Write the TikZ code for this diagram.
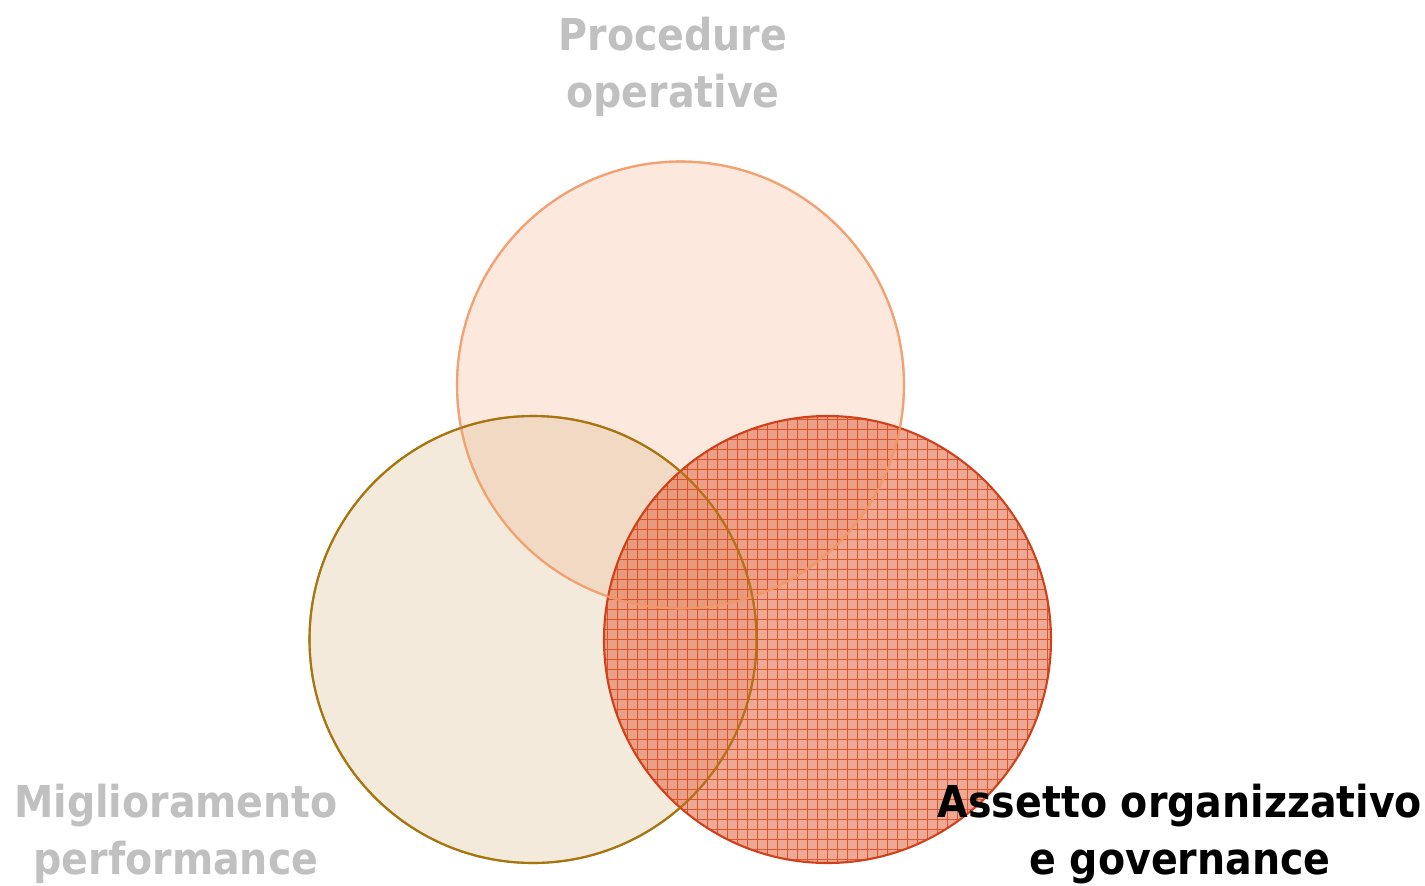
\documentclass[tikz,border=0pt]{standalone}
\usepackage{fontspec}
\setmainfont{DejaVu Sans Condensed}
\definecolor{procline}{HTML}{F4A070}
\definecolor{procfill}{HTML}{F7B894}
\definecolor{migline}{HTML}{A8740E}
\definecolor{migfill}{HTML}{D9B98A}
\definecolor{assline}{HTML}{D0401A}
\definecolor{assfill}{HTML}{E2704F}
\definecolor{assgrid}{HTML}{DA461A}
\definecolor{labelgray}{HTML}{C0C0C0}

\begin{document}
\begin{tikzpicture}[
    area/.style={circle, minimum size=4.47cm, inner sep=0pt, line width=0.6pt},
    label/.style={align=center, anchor=base, inner sep=0pt,
        font=\fontsize{12.5pt}{16.2pt}\selectfont\bfseries}
]
    \useasboundingbox (0,0) rectangle (14.25,8.85);
    \node[area, draw=procline, fill=procfill, fill opacity=0.33] (proc) at (6.805,5.0) {};
    \node[area, draw=migline, fill=migfill, fill opacity=0.3] (mig) at (5.33,2.455) {};
    \node[area, draw=assline, fill=assfill, fill opacity=0.6,
        path picture={
            \draw[assgrid, line width=0.4pt, opacity=0.85, step=0.1]
                (path picture bounding box.south west) grid
                (path picture bounding box.north east);
        }] (ass) at (8.275,2.455) {};
    % outlines seen through the red circle
    \draw[procline, line width=0.6pt, opacity=0.8] (proc.center) circle[radius=2.235];
    \draw[migline, line width=0.6pt, opacity=0.7] (mig.center) circle[radius=2.235];
    \node[label, text=labelgray] (proclabel) at (6.73,7.78) {Procedure\\operative};
    \node[label, text=labelgray] (miglabel) at (1.76,0.11) {Miglioramento\\performance};
    \node[label, text=black] (asslabel) at (11.8,0.11) {Assetto organizzativo\\e governance};
\end{tikzpicture}
\end{document}
